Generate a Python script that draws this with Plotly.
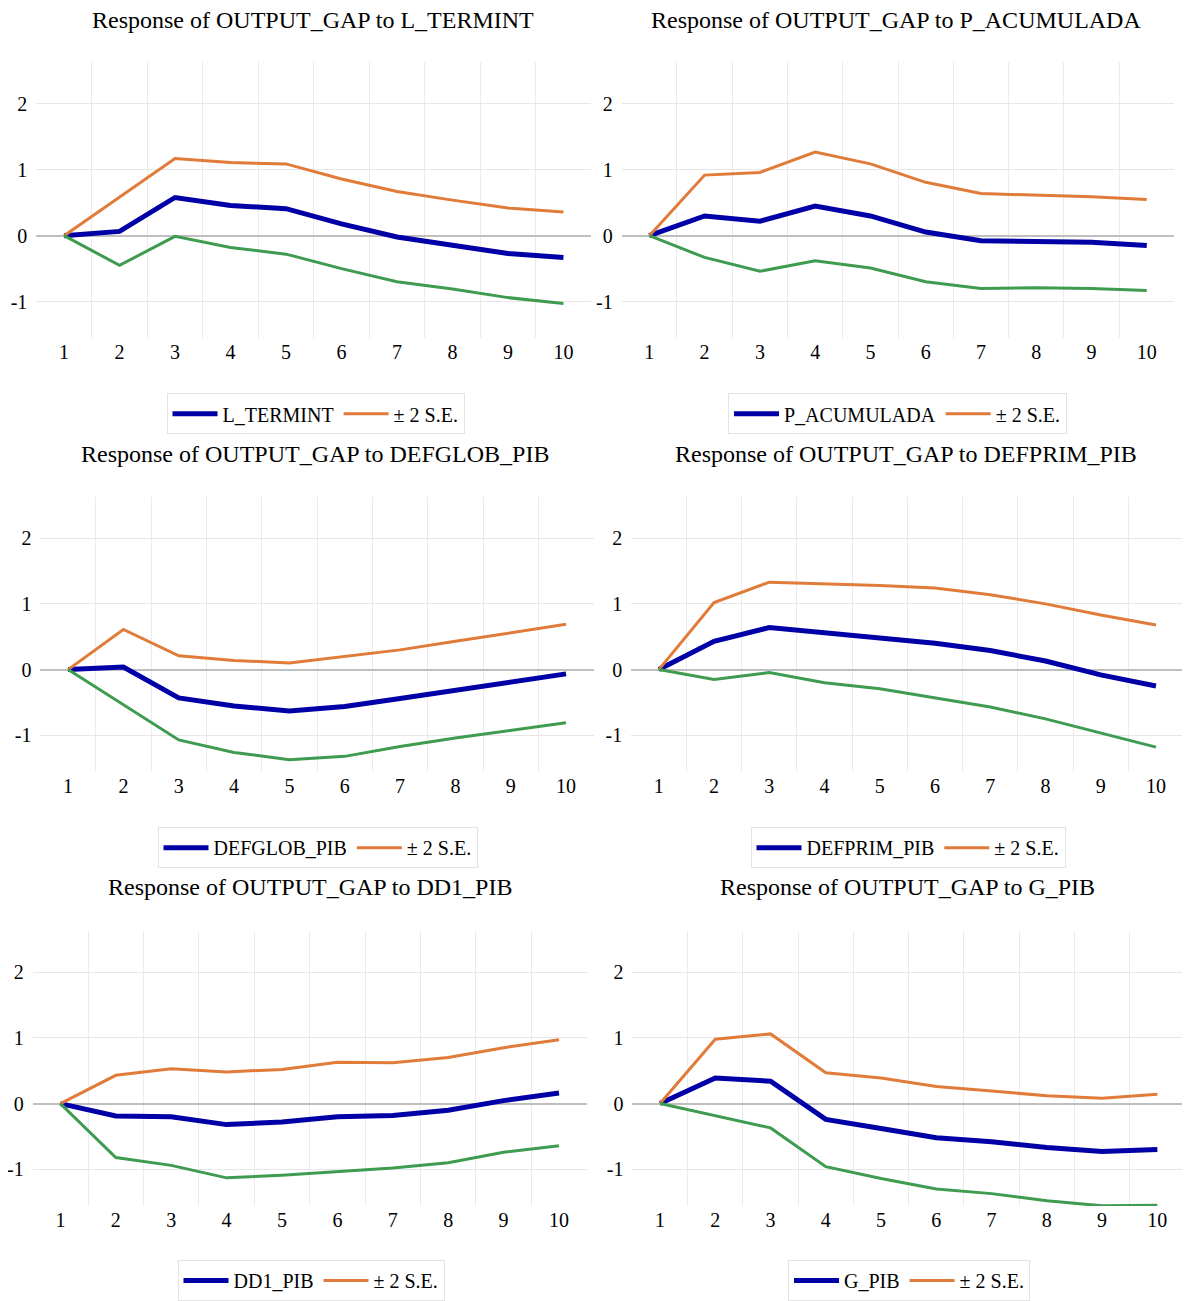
import plotly.graph_objects as go

periods = [1, 2, 3, 4, 5, 6, 7, 8, 9, 10]
shocks = ["L_TERMINT", "P_ACUMULADA", "DEFGLOB_PIB", "DEFPRIM_PIB", "DD1_PIB", "G_PIB"]

resp_l_termint = [0.0, 0.065, 0.58, 0.46, 0.41, 0.18, -0.02, -0.15, -0.27, -0.33]
up_l_termint = [0.0, 0.58, 1.17, 1.11, 1.09, 0.86, 0.67, 0.54, 0.42, 0.36]
lo_l_termint = [0.0, -0.45, -0.01, -0.18, -0.28, -0.50, -0.70, -0.81, -0.94, -1.03]

resp_p_acum = [0.0, 0.30, 0.22, 0.45, 0.30, 0.055, -0.075, -0.09, -0.10, -0.15]
up_p_acum = [0.0, 0.92, 0.96, 1.27, 1.09, 0.81, 0.64, 0.62, 0.59, 0.55]
lo_p_acum = [0.0, -0.33, -0.54, -0.38, -0.49, -0.70, -0.80, -0.79, -0.80, -0.83]

resp_defglob = [0.0, 0.04, -0.43, -0.555, -0.63, -0.56, -0.44, -0.31, -0.19, -0.065]
up_defglob = [0.0, 0.61, 0.21, 0.14, 0.10, 0.20, 0.30, 0.43, 0.56, 0.69]
lo_defglob = [0.0, -0.53, -1.07, -1.26, -1.37, -1.32, -1.17, -1.04, -0.93, -0.81]

resp_defprim = [0.0, 0.43, 0.64, 0.56, 0.49, 0.40, 0.29, 0.13, -0.08, -0.25]
up_defprim = [0.0, 1.02, 1.33, 1.31, 1.28, 1.24, 1.14, 1.00, 0.83, 0.68]
lo_defprim = [0.0, -0.15, -0.045, -0.20, -0.29, -0.43, -0.57, -0.75, -0.97, -1.18]

resp_dd1 = [0.0, -0.19, -0.20, -0.32, -0.28, -0.20, -0.18, -0.10, 0.045, 0.16]
up_dd1 = [0.0, 0.43, 0.53, 0.48, 0.52, 0.63, 0.62, 0.70, 0.85, 0.97]
lo_dd1 = [0.0, -0.82, -0.94, -1.13, -1.09, -1.04, -0.98, -0.90, -0.74, -0.64]

resp_g = [0.0, 0.39, 0.34, -0.24, -0.38, -0.52, -0.58, -0.67, -0.73, -0.70]
up_g = [0.0, 0.98, 1.06, 0.47, 0.39, 0.26, 0.19, 0.12, 0.08, 0.14]
lo_g = [0.0, -0.19, -0.37, -0.96, -1.14, -1.30, -1.37, -1.48, -1.555, -1.545]

y_ticks = [-1, 0, 1, 2]
y_ticktext = ["-1", "0", "1", "2"]

resp_all = [resp_l_termint, resp_p_acum, resp_defglob, resp_defprim, resp_dd1, resp_g]
up_all = [up_l_termint, up_p_acum, up_defglob, up_defprim, up_dd1, up_g]
lo_all = [lo_l_termint, lo_p_acum, lo_defglob, lo_defprim, lo_dd1, lo_g]

OFF = 8  # page body margin
W, H = 1190 - OFF, 1301 - OFF
# pixel geometry (page coords) of plot areas: (x0, x1, ytop, ybottom)
boxes = [
    (36.3, 591.2, 62.7, 340.0),
    (621.7, 1174.4, 62.7, 340.0),
    (40.4, 593.7, 499.0, 775.7),
    (631.2, 1183.6, 499.0, 775.7),
    (32.7, 586.7, 935.0, 1211.7),
    (632.4, 1185.0, 935.0, 1211.7),
]
titles_pos = [(313, 20), (895.5, 20), (315.5, 456), (906, 456), (309.5, 891), (908, 891)]
legend_pos = [(315.5, 395), (897.5, 395), (317.5, 831), (908, 831), (311, 1266), (909, 1266)]


def px(v):
    return (v - OFF) / W


def py(v):
    return 1 - (v - OFF) / H


BLUE = "#0000A6"
ORANGE = "#E07B39"
GREEN = "#3E9B50"
FONT = "Liberation Serif, Times New Roman, serif"

fig = go.Figure()
layout = dict(
    width=W, height=H, margin=dict(l=0, r=0, t=0, b=0),
    paper_bgcolor="white", plot_bgcolor="white",
    font=dict(family=FONT, size=20, color="black"),
    annotations=[],
)

for i in range(6):
    n = "" if i == 0 else str(i + 1)
    xa, ya = "x" + n, "y" + n
    lg = "legend" + n
    fig.add_trace(go.Scatter(x=periods, y=resp_all[i], mode="lines", name=shocks[i],
                             line=dict(color=BLUE, width=5), xaxis=xa, yaxis=ya, legend=lg))
    fig.add_trace(go.Scatter(x=periods, y=up_all[i], mode="lines", name="± 2 S.E.",
                             line=dict(color=ORANGE, width=3), xaxis=xa, yaxis=ya, legend=lg))
    fig.add_trace(go.Scatter(x=periods, y=lo_all[i], mode="lines", name="± 2 S.E.",
                             line=dict(color=GREEN, width=3), xaxis=xa, yaxis=ya, legend=lg,
                             showlegend=False))
    x0, x1, yt, yb = boxes[i]
    layout["xaxis" + n] = dict(
        domain=[px(x0), px(x1)], range=[0.5, 10.5], anchor=ya,
        tickvals=periods, ticktext=[str(p) for p in periods],
        showgrid=False, zeroline=False, showline=False, ticks="",
        tickfont=dict(size=20, family=FONT),
        minor=dict(tickvals=[1.5, 2.5, 3.5, 4.5, 5.5, 6.5, 7.5, 8.5, 9.5],
                   showgrid=True, gridcolor="#EBEBEB", gridwidth=1, ticks=""),
        fixedrange=True,
    )
    layout["yaxis" + n] = dict(
        domain=[py(yb), py(yt)], range=[-1.56, 2.63], anchor=xa,
        tickvals=y_ticks, ticktext=y_ticktext,
        showgrid=True, gridcolor="#E6E6E6", gridwidth=1,
        zeroline=True, zerolinecolor="#BFBFBF", zerolinewidth=2,
        showline=False, ticks="", ticklabelstandoff=8,
        tickfont=dict(size=20, family=FONT),
        fixedrange=True,
    )
    tx, ty = titles_pos[i]
    layout["annotations"].append(dict(
        text="Response of OUTPUT_GAP to " + shocks[i], xref="paper", yref="paper",
        x=px(tx), y=py(ty), xanchor="center", yanchor="middle", showarrow=False,
        font=dict(size=24, family=FONT, color="black")))
    lx, ly = legend_pos[i]
    layout[lg] = dict(
        x=px(lx), y=py(ly), xanchor="center", yanchor="top",
        orientation="h", bordercolor="#E3E3E3", borderwidth=1, bgcolor="white",
        font=dict(size=20, family=FONT, color="black"),
        itemwidth=45, tracegroupgap=0,
    )

fig.update_layout(**layout)
fig.write_html("out.html")
